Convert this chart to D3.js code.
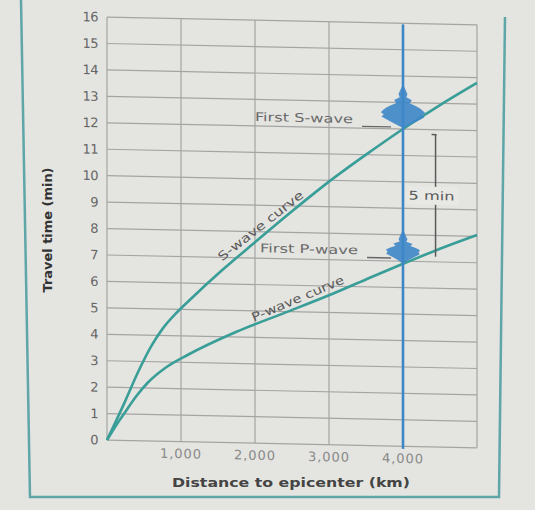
<!DOCTYPE html>
<html>
<head>
<script src="https://d3js.org/d3.v7.min.js"></script>
<style>
  body { margin: 0; background: #e4e4e0; }
  text { font-family: "DejaVu Sans", "Liberation Sans", sans-serif; }
</style>
</head>
<body>
<div id="chart"></div>
<script>
// travel-time curves, [distance km, time min]
const sWave = [[0,0],[240,1.45],[420,2.6],[600,3.6],[750,4.25],[950,4.9],[1150,5.45],[1550,6.5],
  [2000,7.6],[2500,8.8],[3000,9.95],[3500,11.0],[4000,12.0],[4500,12.93],[5000,13.8]];
const pWave = [[0,0],[120,0.55],[240,1.05],[400,1.7],[550,2.2],[800,2.8],[1100,3.3],[1750,4.2],
  [2400,4.95],[3000,5.65],[3500,6.28],[4000,6.9],[4500,7.5],[5000,8.05]];

// seismogram recorded at 4,000 km: burst envelopes [time min, half width km]
const stationKm = 4000;
const sBurst = [[13.6,15],[13.45,40],[13.32,60],[13.2,45],[13.09,120],[12.98,90],[12.88,170],[12.79,230],
  [12.7,270],[12.62,300],[12.54,260],[12.46,290],[12.36,230],[12.27,170],[12.19,110],[12.12,60],[12.06,20]];
const pBurst = [[8.1,15],[7.95,40],[7.83,60],[7.74,45],[7.66,130],[7.58,100],[7.5,180],[7.43,230],
  [7.35,210],[7.27,225],[7.18,160],[7.1,110],[7.02,60],[6.95,25]];
const traceTop = 15.95, traceBottom = -0.1;
const firstS = 12.07, firstP = 7.11;
const bracketTop = 11.81, bracketBottom = 7.19, bracketKm = 4440;

const yTicks = d3.range(0, 17);
const xTicks = [1000, 2000, 3000, 4000];
const xGrid = [0, 1000, 2000, 3000, 4000, 5000];

const W = 535, H = 510;
const svg = d3.select("#chart").append("svg").attr("width", W).attr("height", H);

svg.append("rect").attr("width", W).attr("height", H).attr("fill", "#e4e4e0");

// outer frame of the figure
svg.append("path")
  .attr("d", "M21,0 L30,497 L499,497 L505,17")
  .attr("fill", "none").attr("stroke", "#5ea6a8").attr("stroke-width", 2.5);

const x = d3.scaleLinear().domain([0, 5000]).range([107, 477]);
const y = d3.scaleLinear().domain([0, 16]).range([440, 17]);

// the printed page was photographed slightly tilted
const g = svg.append("g").attr("transform", "translate(0,-2.2) skewY(1.2)");

// grid
const grid = g.append("g").attr("stroke", "#a4a4a4").attr("stroke-width", 1.2);
grid.selectAll(".h").data(yTicks).join("line").attr("class", "h")
  .attr("x1", x(0)).attr("x2", x(5000))
  .attr("y1", d => y(d)).attr("y2", d => y(d));
grid.selectAll(".v").data(xGrid).join("line").attr("class", "v")
  .attr("x1", d => x(d)).attr("x2", d => x(d))
  .attr("y1", y(0)).attr("y2", y(16));

// y tick labels
g.append("g").selectAll("text").data(yTicks).join("text")
  .attr("x", 98).attr("y", d => y(d)).attr("dy", "0.36em")
  .attr("text-anchor", "end").attr("font-size", 13).attr("fill", "#666")
  .attr("letter-spacing", -0.5)
  .text(d => d);

// x tick labels
g.append("g").selectAll("text").data(xTicks).join("text")
  .attr("x", d => x(d)).attr("y", 452).attr("dy", "0.36em")
  .attr("text-anchor", "middle").attr("font-size", 13).attr("fill", "#8a8a8a")
  .attr("letter-spacing", 1)
  .text(d => d3.format(",")(d));

// curves
const line = d3.line().x(d => x(d[0])).y(d => y(d[1])).curve(d3.curveMonotoneX);
[sWave, pWave].forEach(c => {
  g.append("path").datum(c).attr("d", line)
    .attr("fill", "none").attr("stroke", "#3a9e98").attr("stroke-width", 2.6);
});

// seismogram trace
g.append("line")
  .attr("x1", x(stationKm)).attr("x2", x(stationKm))
  .attr("y1", y(traceTop)).attr("y2", y(traceBottom))
  .attr("stroke", "#3d86c8").attr("stroke-width", 2.6);
const burst = d3.area()
  .y(d => y(d[0]))
  .x0(d => x(stationKm - d[1])).x1(d => x(stationKm + d[1]))
  .curve(d3.curveLinear);
[sBurst, pBurst].forEach(b => {
  g.append("path").datum(b).attr("d", burst)
    .attr("fill", "#3d86c8").attr("opacity", 0.9);
});

// arrival labels with leaders
const ann = [["First S-wave", firstS, 353], ["First P-wave", firstP, 358]];
ann.forEach(([label, t, right]) => {
  g.append("text").attr("x", right).attr("y", y(t) - 3)
    .attr("text-anchor", "end").attr("font-size", 12).attr("fill", "#6a6a6a")
    .attr("textLength", 98).attr("lengthAdjust", "spacingAndGlyphs")
    .text(label);
  g.append("line").attr("x1", right + 9).attr("x2", x(stationKm) - 12)
    .attr("y1", y(t)).attr("y2", y(t))
    .attr("stroke", "#666").attr("stroke-width", 1.3);
});

// 5 min bracket
const bx = x(bracketKm);
g.append("line").attr("x1", bx).attr("x2", bx)
  .attr("y1", y(bracketTop)).attr("y2", y(bracketBottom))
  .attr("stroke", "#5a5a5a").attr("stroke-width", 1.5);
g.append("line").attr("x1", bx - 4).attr("x2", bx + 1)
  .attr("y1", y(bracketTop)).attr("y2", y(bracketTop))
  .attr("stroke", "#5a5a5a").attr("stroke-width", 1.5);
const midT = (bracketTop + bracketBottom) / 2;
g.append("rect").attr("x", bx - 29).attr("y", y(midT) - 9)
  .attr("width", 52).attr("height", 18).attr("fill", "#e8e8e4");
g.append("text").attr("x", bx - 4).attr("y", y(midT)).attr("dy", "0.36em")
  .attr("text-anchor", "middle").attr("font-size", 12).attr("fill", "#5a5a5a")
  .attr("textLength", 46).attr("lengthAdjust", "spacingAndGlyphs")
  .text("5 min");

// curve labels
g.append("text")
  .attr("transform", "translate(261,223) rotate(-39)")
  .attr("text-anchor", "middle").attr("dy", "0.3em").attr("font-size", 12).attr("fill", "#5a5a5a")
  .attr("textLength", 106).attr("lengthAdjust", "spacingAndGlyphs")
  .text("S-wave curve");
g.append("text")
  .attr("transform", "translate(298,295) rotate(-24)")
  .attr("text-anchor", "middle").attr("dy", "0.3em").attr("font-size", 12).attr("fill", "#5a5a5a")
  .attr("textLength", 100).attr("lengthAdjust", "spacingAndGlyphs")
  .text("P-wave curve");

// axis titles
svg.append("text")
  .attr("transform", "translate(48,230) rotate(-90)").attr("dy", "0.35em")
  .attr("text-anchor", "middle").attr("font-size", 12).attr("font-weight", "bold")
  .attr("fill", "#333").attr("textLength", 125).attr("lengthAdjust", "spacingAndGlyphs")
  .text("Travel time (min)");
svg.append("text")
  .attr("x", 291).attr("y", 482).attr("dy", "0.36em")
  .attr("text-anchor", "middle").attr("font-size", 13).attr("font-weight", "bold")
  .attr("fill", "#444").attr("textLength", 238).attr("lengthAdjust", "spacingAndGlyphs")
  .text("Distance to epicenter (km)");
</script>
</body>
</html>
